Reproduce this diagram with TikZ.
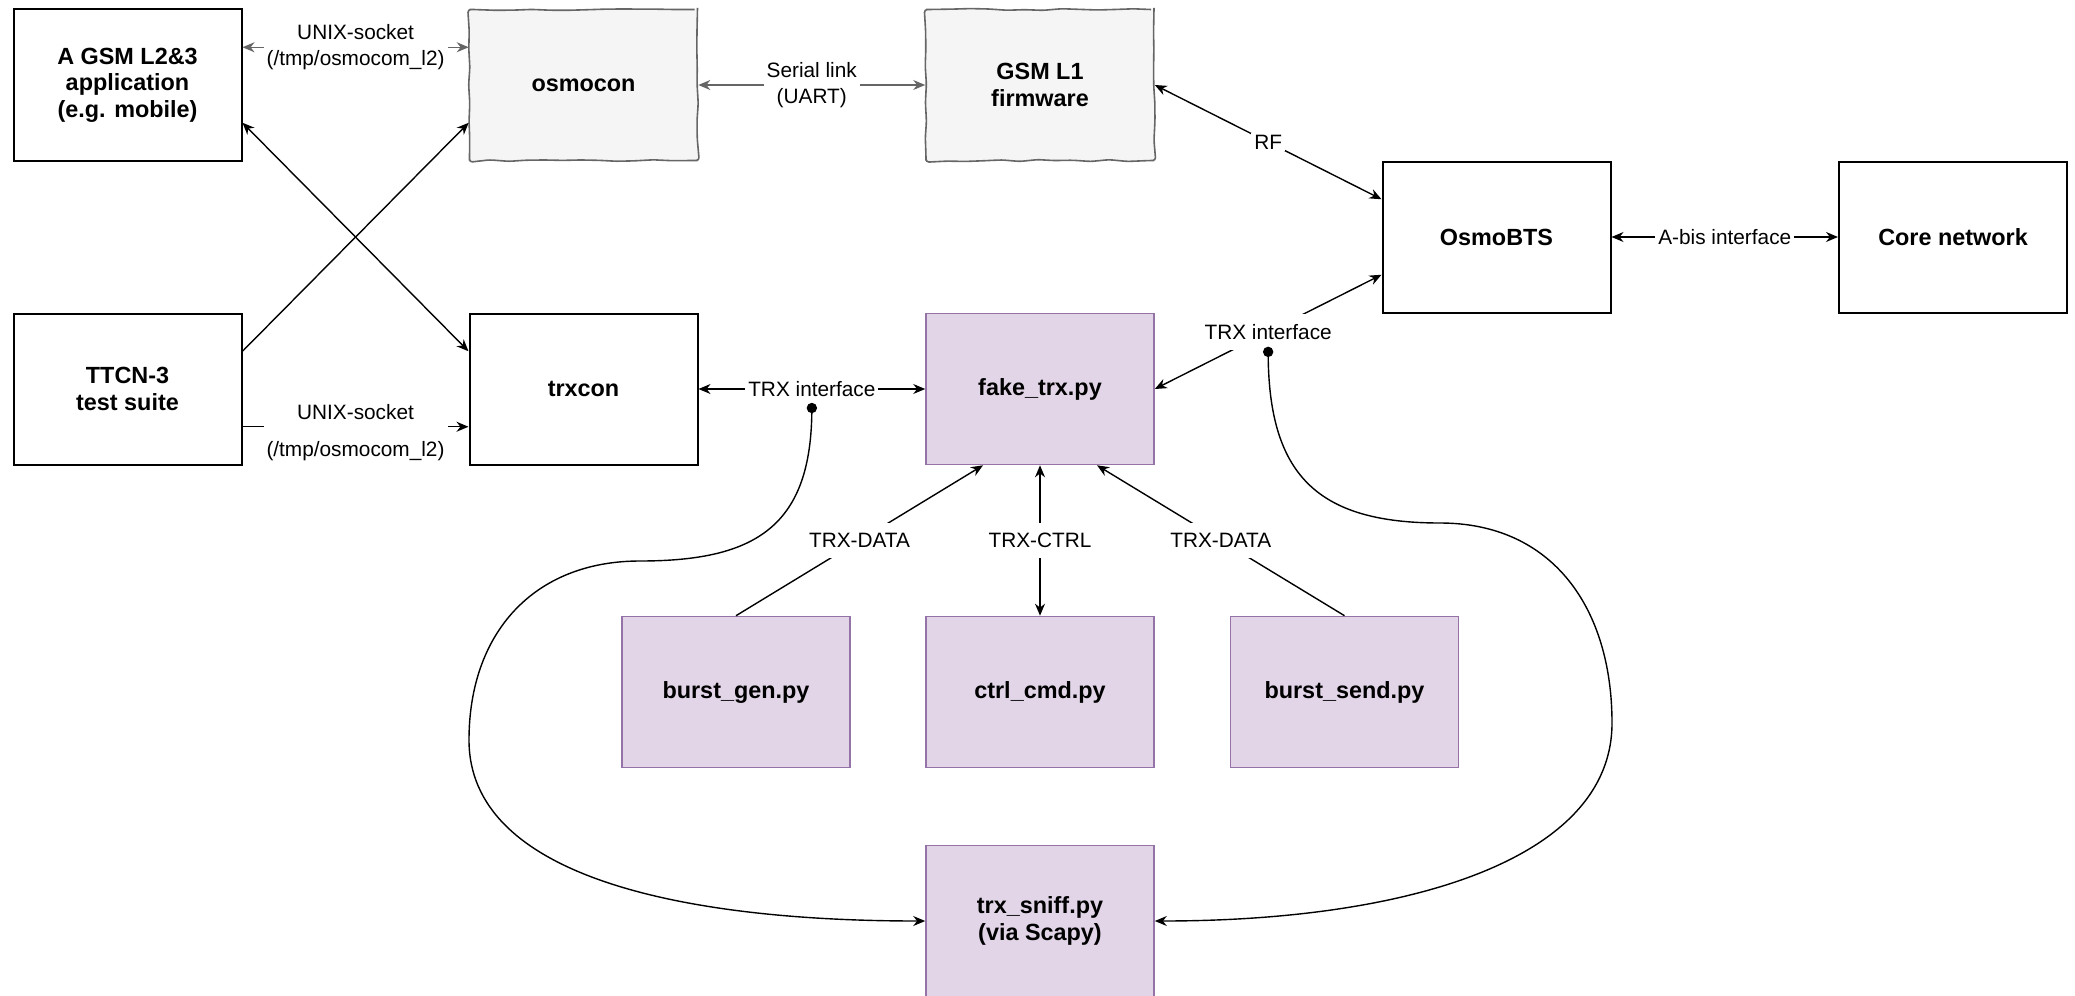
\documentclass[tikz,border=0pt]{standalone}
\usepackage{fontspec}
\setmainfont{Liberation Sans}
\usetikzlibrary{arrows.meta,decorations.pathmorphing,calc}
\definecolor{purfill}{HTML}{E1D5E7}
\definecolor{purline}{HTML}{9673A6}
\definecolor{grfill}{HTML}{F5F5F5}
\definecolor{grline}{HTML}{666666}
\pgfmathsetseed{11}
\begin{document}
\begin{tikzpicture}[x=0.5pt,y=0.5pt,
  box/.style={draw=black, line width=1pt, fill=white, minimum width=114pt, minimum height=75.5pt,
    inner sep=0pt, align=center, font=\fontsize{11.7}{13.3}\selectfont\bfseries},
  sketchbox/.style={box, draw=grline, fill=grfill, line width=0.8pt, decorate,
    decoration={random steps, segment length=9pt, amplitude=0.5pt}, rounded corners=1.5pt},
  purbox/.style={box, draw=purline, fill=purfill, line width=0.8pt},
  lbl/.style={font=\fontsize{10.4}{13}\selectfont, fill=white, inner xsep=1.5pt, inner ysep=5pt, align=center},
  tip/.style={Stealth[length=6pt,width=5pt]},
  conn/.style={line width=0.7pt, {Stealth[length=6pt,width=5pt]}-{Stealth[length=6pt,width=5pt]}},
  arr/.style={line width=0.7pt, -{Stealth[length=6pt,width=5pt]}},
  grayconn/.style={conn, draw=grline}
]
\useasboundingbox (0,0) rectangle (2075,-995);

% boxes
\node[box] (gsm) at (127.5,-85) {A GSM L2\&3\\application\\(e.g. mobile)};
\node[sketchbox] (osmocon) at (583.5,-85) {osmocon};
\node[sketchbox] (l1) at (1040,-85) {GSM L1\\firmware};
\node[box] (bts) at (1496.5,-237) {OsmoBTS};
\node[box] (core) at (1953,-237) {Core network};
\node[box] (ttcn) at (127.5,-389) {TTCN-3\\test suite};
\node[box] (trxcon) at (583.5,-389) {trxcon};
\node[purbox] (fake) at (1040,-389) {fake\_trx.py};
\node[purbox] (bgen) at (736,-692) {burst\_gen.py};
\node[purbox] (ctrl) at (1040,-692) {ctrl\_cmd.py};
\node[purbox] (bsend) at (1344.5,-692) {burst\_send.py};
\node[purbox] (sniff) at (1040,-921) {trx\_sniff.py\\(via Scapy)};

% top connections
\draw[grayconn] ($(gsm.east)+(0,37.75)$) -- node[lbl, inner ysep=1pt]{UNIX-socket\\(/tmp/osmocom\_l2)} ($(osmocon.west)+(0,37.75)$);
\draw[grayconn] (osmocon.east) -- node[lbl, inner ysep=1pt]{Serial link\\(UART)} (l1.west);
\draw[conn] ($(gsm.east)+(0,-37.75)$) -- ($(trxcon.west)+(0,37.75)$);
\draw[arr] ($(ttcn.east)+(0,37.75)$) -- ($(osmocon.west)+(0,-37.75)$);
\draw[arr] ($(ttcn.east)+(0,-37.75)$) -- node[lbl, inner ysep=1pt, yshift=-3pt]{UNIX-socket\\[5.5pt](/tmp/osmocom\_l2)} ($(trxcon.west)+(0,-37.75)$);
\draw[conn] (l1.east) -- node[lbl, inner ysep=1pt]{RF} ($(bts.west)+(0,37.75)$);
\draw[conn] (bts.east) -- node[lbl, inner ysep=1pt]{A-bis interface} (core.west);

% TRX interfaces
\draw[conn] (trxcon.east) -- node[lbl](ltrx){TRX interface} (fake.west);
\draw[conn] (fake.east) -- node[lbl](rtrx){TRX interface} ($(bts.west)+(0,-37.75)$);

% bottom connections
\draw[arr] (bgen.north) -- node[lbl]{TRX-DATA} ($(fake.south)+(-57,0)$);
\draw[conn] (ctrl.north) -- node[lbl]{TRX-CTRL} (fake.south);
\draw[arr] (bsend.north) -- node[lbl]{TRX-DATA} ($(fake.south)+(57,0)$);

% sniffer curves
\coordinate (ldot) at ($(ltrx.center)+(0,-19)$);
\coordinate (rdot) at ($(rtrx.center)+(0,-20)$);
\coordinate (lw1) at (640,-561);
\coordinate (lw2) at (469,-740);
\coordinate (rw1) at (1440,-523);
\coordinate (rw2) at (1612,-723);
\draw[arr] (ldot) to[out=-90,in=0,looseness=1.3] (lw1)
  to[out=180,in=90,looseness=1.1] (lw2)
  to[out=-90,in=180,out looseness=0.7,in looseness=1.3] (sniff.west);
\draw[arr] (rdot) to[out=-90,in=180,looseness=1.3] (rw1)
  to[out=0,in=90,looseness=1.1] (rw2)
  to[out=-90,in=0,out looseness=0.7,in looseness=1.3] (sniff.east);
\fill (ldot) circle[radius=2.6pt];
\fill (rdot) circle[radius=2.6pt];
\end{tikzpicture}
\end{document}
